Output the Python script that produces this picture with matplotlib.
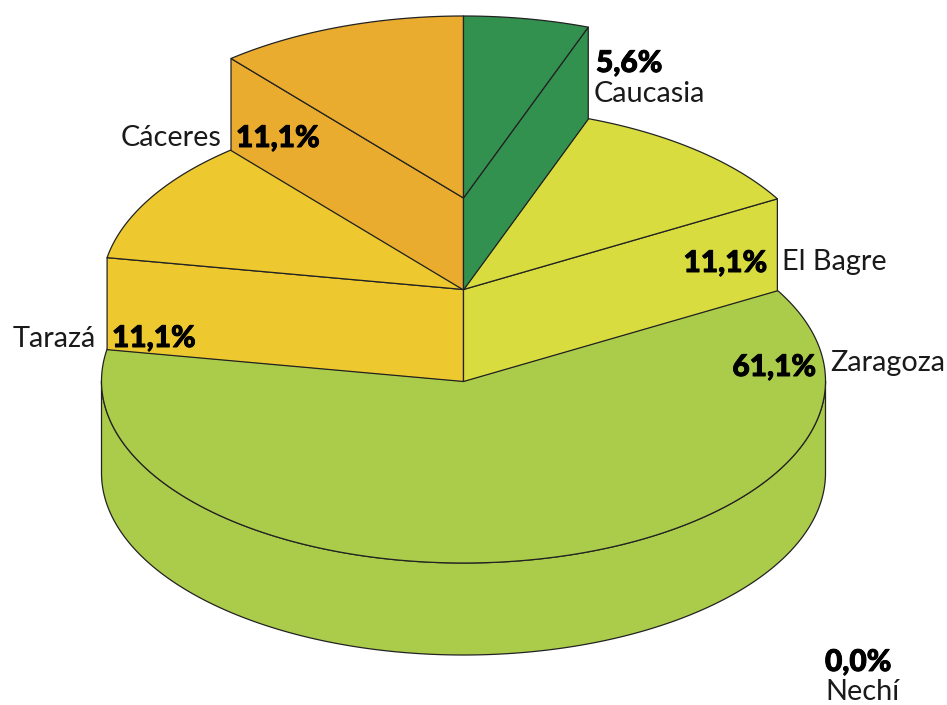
#!/usr/bin/env python3
import numpy as np
from matplotlib import pyplot as plt
from matplotlib.patches import Polygon
from matplotlib import patheffects

# clockwise from 12 o'clock
names = ["Caucasia", "El Bagre", "Zaragoza", "Nechí", "Tarazá", "Cáceres"]
percent = [5.6, 11.1, 61.1, 0.0, 11.1, 11.1]
colors = ["#33914f", "#d8dc3e", "#abcc4a", "#abcc4a", "#edc92f", "#e9ac2e"]
labels = ["5,6%", "11,1%", "61,1%", "0,0%", "11,1%", "11,1%"]

# how many steps each slice is lifted
lift = [2, 1, 0, 0, 1, 2]

CX = 463.5
CY = 381
RX = 362
RY = 182
DEPTH = 92
STEP = 91.5
LINE = "#222222"
LW = 0.9


def arc(t0, t1, cy):
    '''puntos del arco, angulos en grados desde arriba'''
    t = np.radians(np.linspace(t0, t1, max(int(abs(t1 - t0)) * 2, 2)))
    return np.column_stack([CX + RX * np.sin(t), cy - RY * np.cos(t)])


def poly(ax, pts, color, z):
    ax.add_patch(Polygon(pts, closed=True, facecolor=color, edgecolor=LINE,
                         linewidth=LW, joinstyle="round", zorder=z))


def drawSlice(ax, t0, t1, level, color, z):
    cy = CY - level * STEP
    # outer wall, only the part facing the viewer
    a = max(t0, 90)
    b = min(t1, 270)
    if a < b:
        top = arc(a, b, cy)
        poly(ax, np.vstack([top, top[::-1] + [0, DEPTH]]), color, z)
    # radial walls, skipped on the flat bottom slice
    if level > 0:
        for t in (t0, t1):
            if (t == t0 and t < 180) or (t == t1 and t > 180):
                continue
            p = arc(t, t, cy)[0]
            center = np.array([CX, cy])
            poly(ax, [center, p, p + [0, DEPTH], center + [0, DEPTH]], color, z)
    # top face
    poly(ax, np.vstack([[CX, cy], arc(t0, t1, cy)]), color, z + 0.5)


fig = plt.figure(figsize=(9.47, 7.05), dpi=100)
ax = fig.add_axes([0, 0, 1, 1])
ax.set_xlim(0, 947)
ax.set_ylim(705, 0)
ax.axis("off")

edges = np.cumsum([0] + percent) / sum(percent) * 360
for i in [2, 4, 1, 5, 0]:
    drawSlice(ax, edges[i], edges[i + 1], lift[i], colors[i], lift[i] * 2 + 1)

NAME_FONT = dict(family="Lato", fontsize=20.8, color="#1a1a1a", va="center", zorder=20)
PCT_FONT = dict(family="Lato", fontweight="black", fontsize=21.5, color="#000000",
                va="center", zorder=20,
                path_effects=[patheffects.withStroke(linewidth=0.7, foreground="black")])

ax.text(596, 63, labels[0], ha="left", **PCT_FONT)
ax.text(594, 94, names[0], ha="left", **NAME_FONT)
ax.text(767, 263, labels[1], ha="right", **PCT_FONT)
ax.text(782, 262, names[1], ha="left", **NAME_FONT)
ax.text(816, 367, labels[2], ha="right", **PCT_FONT)
ax.text(830, 363, names[2], ha="left", **NAME_FONT)
ax.text(825, 662, labels[3], ha="left", **PCT_FONT)
ax.text(825, 692, names[3], ha="left", **NAME_FONT)
ax.text(112, 338, labels[4], ha="left", **PCT_FONT)
ax.text(96, 339, names[4], ha="right", **NAME_FONT)
ax.text(236, 138, labels[5], ha="left", **PCT_FONT)
ax.text(221, 138, names[5], ha="right", **NAME_FONT)

fig.savefig("out.png", dpi=100, facecolor="white")
